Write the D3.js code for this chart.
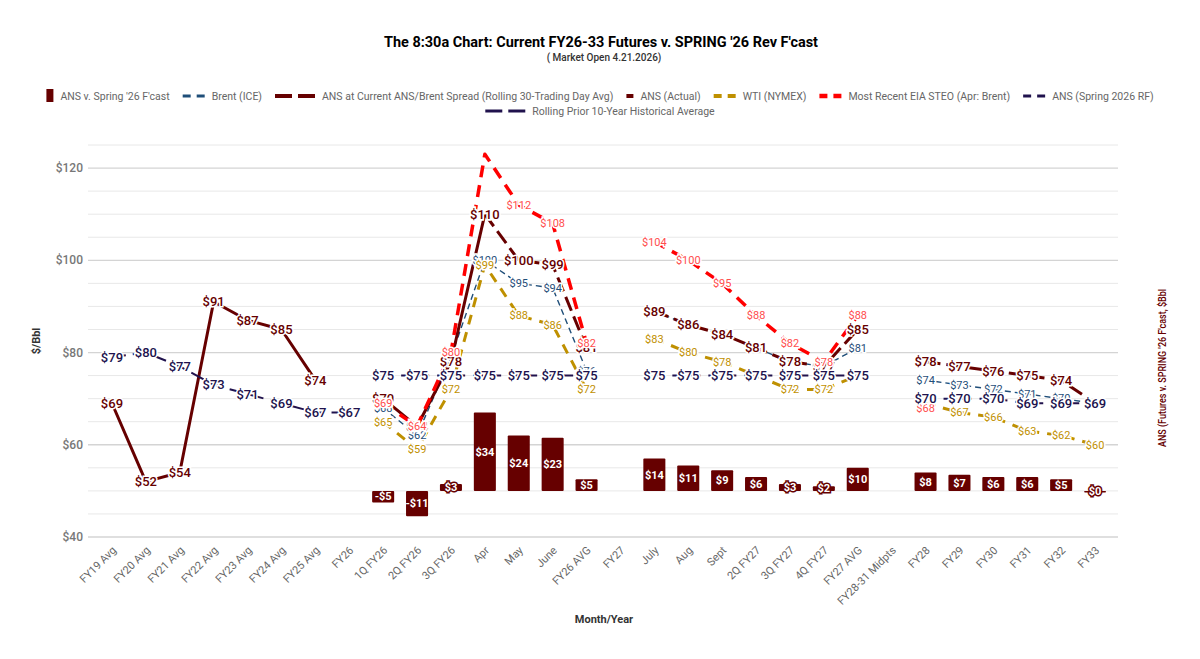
<!DOCTYPE html>
<html>
<head>
<meta charset="utf-8">
<script src="https://cdn.jsdelivr.net/npm/d3@7"></script>
<style>
  body { margin: 0; background: #fff; font-family: Roboto, sans-serif; }
</style>
</head>
<body>
<svg id="chart" width="1200" height="659"></svg>
<script>
const N = null;

const categories = ["FY19 Avg", "FY20 Avg", "FY21 Avg", "FY22 Avg", "FY23 Avg", "FY24 Avg", "FY25 Avg",
  "FY26", "1Q FY26", "2Q FY26", "3Q FY26", "Apr", "May", "June", "FY26 AVG",
  "FY27", "July", "Aug", "Sept", "2Q FY27", "3Q FY27", "4Q FY27", "FY27 AVG",
  "FY28-31 Midpts", "FY28", "FY29", "FY30", "FY31", "FY32", "FY33"];

// bars, right axis
const ansVsSpring = [N, N, N, N, N, N, N, N, -5, -11, 3, 34, 24, 23, 5, N, 14, 11, 9, 6, 3, 2, 10, N, 8, 7, 6, 6, 5, 0];

// lines, left axis
const brent = [N, N, N, N, N, N, N, N, 68, 62, 79, 100, 95, 94, 76, N, 89, 86, 84, 81, 78, 77, 81, N, 74, 73, 72, 71, 70, 69];
const ansCurrentSpread = [N, N, N, N, N, N, N, N, N, N, N, 110, 100, 99, 81, N, 89, 86, 84, 81, 78, 77, 85, N, 78, 77, 76, 75, 74, 69];
const ansActual = [69, 52, 54, 91, 87, 85, 74, N, 70, 64, 78, 110, N, N, N, N, N, N, N, N, N, N, N, N, N, N, N, N, N, N];
const wti = [N, N, N, N, N, N, N, N, 65, 59, 72, 99, 88, 86, 72, N, 83, 80, 78, 75, 72, 72, 75, N, 69, 67, 66, 63, 62, 60];
const eiaSteo = [N, N, N, N, N, N, N, N, 69, 64, 80, 123, 112, 108, 82, N, 104, 100, 95, 88, 82, 78, 88, N, 68, N, N, N, N, N];
const ansSpringRF = [N, N, N, N, N, N, N, N, 75, 75, 75, 75, 75, 75, 75, N, 75, 75, 75, 75, 75, 75, 75, N, 70, 70, 70, 69, 69, 69];
const rollingAvg = [79, 80, 77, 73, 71, 69, 67, 67, N, N, N, N, N, N, N, N, N, N, N, N, N, N, N, N, N, N, N, N, N, N];

const leftTicks = [40, 60, 80, 100, 120];

const svg = d3.select("#chart");
const plotLeft = 88, plotRight = 1118;

const x = d3.scaleBand().domain(categories).range([95, 1112]);
const y = d3.scaleLinear().domain([40, 125]).range([537, 145]);
const y2 = d3.scaleLinear().domain([-20, 150]).range([537, 145]);
const cx = c => x(c) + x.bandwidth() / 2;

// gridlines
svg.append("g").selectAll("line")
  .data(d3.range(40, 126, 5))
  .join("line")
  .attr("x1", plotLeft).attr("x2", plotRight)
  .attr("y1", d => y(d)).attr("y2", d => y(d))
  .attr("stroke", d => d % 20 === 0 ? "#d4d4d4" : "#e8e8e8")
  .attr("stroke-width", d => d % 20 === 0 ? 1.3 : 1);

// left axis labels
svg.append("g").selectAll("text")
  .data(leftTicks)
  .join("text")
  .attr("x", 83).attr("y", d => y(d)).attr("dy", "0.35em")
  .attr("text-anchor", "end")
  .attr("font-size", 12).attr("font-weight", 500).attr("fill", "#777")
  .text(d => "$" + d);

// x axis labels
svg.append("g").selectAll("text")
  .data(categories)
  .join("text")
  .attr("transform", d => `translate(${cx(d) + 5},551) rotate(-45)`)
  .attr("text-anchor", "end")
  .attr("font-size", 11).attr("fill", "#666")
  .text(d => d);

// bars
const barData = categories.map((c, i) => ({ c, v: ansVsSpring[i] })).filter(d => d.v !== null);
const bw = x.bandwidth() * 0.65;
svg.append("g").selectAll("rect")
  .data(barData)
  .join("rect")
  .attr("x", d => cx(d.c) - bw / 2)
  .attr("width", bw)
  .attr("y", d => Math.min(y2(d.v), y2(0)))
  .attr("height", d => Math.max(1.5, Math.abs(y2(d.v) - y2(0))))
  .attr("rx", 1)
  .attr("fill", "#660000");

// line series
const series = [
  { name: "Brent (ICE)", values: brent, color: "#1f4e79", width: 1.4, dash: "6,4", label: "#1f4e79", size: 11, weight: 400 },
  { name: "ANS at Current ANS/Brent Spread (Rolling 30-Trading Day Avg)", values: ansCurrentSpread, color: "#660000", width: 3, dash: "15,6", label: "#660000", size: 13, weight: 500 },
  { name: "ANS (Actual)", values: ansActual, color: "#660000", width: 3, dash: null, label: "#660000", size: 13, weight: 500 },
  { name: "WTI (NYMEX)", values: wti, color: "#bf9000", width: 3, dash: "10,8", label: "#bf9000", size: 11, weight: 400 },
  { name: "Most Recent EIA STEO (Apr: Brent)", values: eiaSteo, color: "#ff0000", width: 3.5, dash: "12,8", label: "#ff4d4d", size: 11, weight: 400 },
  { name: "ANS (Spring 2026 RF)", values: ansSpringRF, color: "#20124d", width: 2, dash: "10,8", label: "#20124d", size: 13, weight: 500 },
  { name: "Rolling Prior 10-Year Historical Average", values: rollingAvg, color: "#20124d", width: 2, dash: "14,7", label: "#20124d", size: 13, weight: 500 }
];

const line = d3.line()
  .defined(d => d.v !== null)
  .x(d => cx(d.c))
  .y(d => y(d.v));

series.forEach(s => {
  const pts = categories.map((c, i) => ({ c, v: s.values[i] }));
  svg.append("path")
    .datum(pts)
    .attr("d", line)
    .attr("fill", "none")
    .attr("stroke", s.color)
    .attr("stroke-width", s.width)
    .attr("stroke-dasharray", s.dash)
    .attr("stroke-linejoin", "round");
});

// bar labels
svg.append("g").selectAll("text")
  .data(barData)
  .join("text")
  .attr("x", d => cx(d.c))
  .attr("y", d => {
    const h = Math.abs(y2(d.v) - y2(0));
    return h < 14 ? (d.v < 0 ? y2(d.v / 2) : y2(0) - Math.max(h / 2, 0)) : y2(d.v / 2);
  })
  .attr("dy", "0.35em")
  .attr("text-anchor", "middle")
  .attr("font-size", 11).attr("font-weight", 700)
  .attr("fill", "#fff")
  .attr("stroke", d => Math.abs(d.v) < 4 ? "#660000" : "none")
  .attr("stroke-width", 3)
  .attr("paint-order", "stroke")
  .text(d => (d.v < 0 ? "-$" : "$") + Math.abs(d.v));

// line labels, centred on points with a white halo
series.forEach(s => {
  const pts = categories.map((c, i) => ({ c, v: s.values[i] })).filter(d => d.v !== null && d.v <= 120);
  svg.append("g").selectAll("text")
    .data(pts)
    .join("text")
    .attr("x", d => cx(d.c)).attr("y", d => y(d.v)).attr("dy", "0.35em")
    .attr("text-anchor", "middle")
    .attr("font-size", s.size).attr("font-weight", s.weight)
    .attr("fill", s.label)
    .attr("stroke", "#fff").attr("stroke-width", 3).attr("paint-order", "stroke")
    .text(d => "$" + d.v);
});

// titles
svg.append("text")
  .attr("x", 601).attr("y", 47)
  .attr("text-anchor", "middle")
  .attr("font-size", 15).attr("font-weight", 700).attr("fill", "#000")
  .attr("textLength", 434).attr("lengthAdjust", "spacingAndGlyphs")
  .text("The 8:30a Chart: Current FY26-33 Futures v. SPRING '26 Rev F'cast");

svg.append("text")
  .attr("x", 604).attr("y", 61)
  .attr("text-anchor", "middle")
  .attr("font-size", 10).attr("font-weight", 500).attr("fill", "#333")
  .text("( Market Open 4.21.2026)");

svg.append("text")
  .attr("transform", "translate(40,341) rotate(-90)")
  .attr("text-anchor", "middle")
  .attr("font-size", 11).attr("font-weight", 700).attr("fill", "#333")
  .text("$/Bbl");

svg.append("text")
  .attr("transform", "translate(1166,368) rotate(-90)")
  .attr("text-anchor", "middle")
  .attr("font-size", 10).attr("font-weight", 500).attr("fill", "#660000")
  .attr("textLength", 158).attr("lengthAdjust", "spacingAndGlyphs")
  .text("ANS (Futures v. SPRING '26 F'cast, $Bbl");

svg.append("text")
  .attr("x", 604).attr("y", 623)
  .attr("text-anchor", "middle")
  .attr("font-size", 11).attr("font-weight", 700).attr("fill", "#333")
  .text("Month/Year");

// legend
const legendItems = [
  { name: "ANS v. Spring '26 F'cast", kind: "bar", color: "#660000" },
  ...series.map(s => ({ name: s.name, kind: "line", color: s.color, width: s.width,
    seg: s.name.startsWith("ANS at") || s.name.startsWith("Rolling") ? 17 : (s.name === "ANS (Actual)" ? 7 : 8) }))
];
const rows = [legendItems.slice(0, 7), legendItems.slice(7)];
const rowY = [96, 111];
const gap = 13;
rows.forEach((row, ri) => {
  const g = svg.append("g");
  let cursor = 0;
  row.forEach(item => {
    const ig = g.append("g").attr("transform", `translate(${cursor},0)`);
    let sw;
    if (item.kind === "bar") {
      ig.append("rect").attr("x", 0).attr("y", -7).attr("width", 7).attr("height", 13).attr("fill", item.color);
      sw = 7;
    } else if (item.name === "ANS (Actual)") {
      ig.append("line").attr("x1", 0).attr("x2", item.seg).attr("y1", 0).attr("y2", 0)
        .attr("stroke", item.color).attr("stroke-width", 4);
      sw = item.seg;
    } else {
      [0, 1].forEach(k => {
        ig.append("line")
          .attr("x1", k * (item.seg + 6)).attr("x2", k * (item.seg + 6) + item.seg)
          .attr("y1", 0).attr("y2", 0)
          .attr("stroke", item.color).attr("stroke-width", Math.max(3, item.width + 1));
      });
      sw = item.seg * 2 + 6;
    }
    const t = ig.append("text")
      .attr("x", sw + 7).attr("y", 0).attr("dy", "0.35em")
      .attr("font-size", 10.5).attr("fill", "#666")
      .text(item.name);
    cursor += sw + 7 + t.node().getComputedTextLength() + gap;
  });
  const total = cursor - gap;
  g.attr("transform", `translate(${(1200 - total) / 2},${rowY[ri]})`);
});
</script>
</body>
</html>
